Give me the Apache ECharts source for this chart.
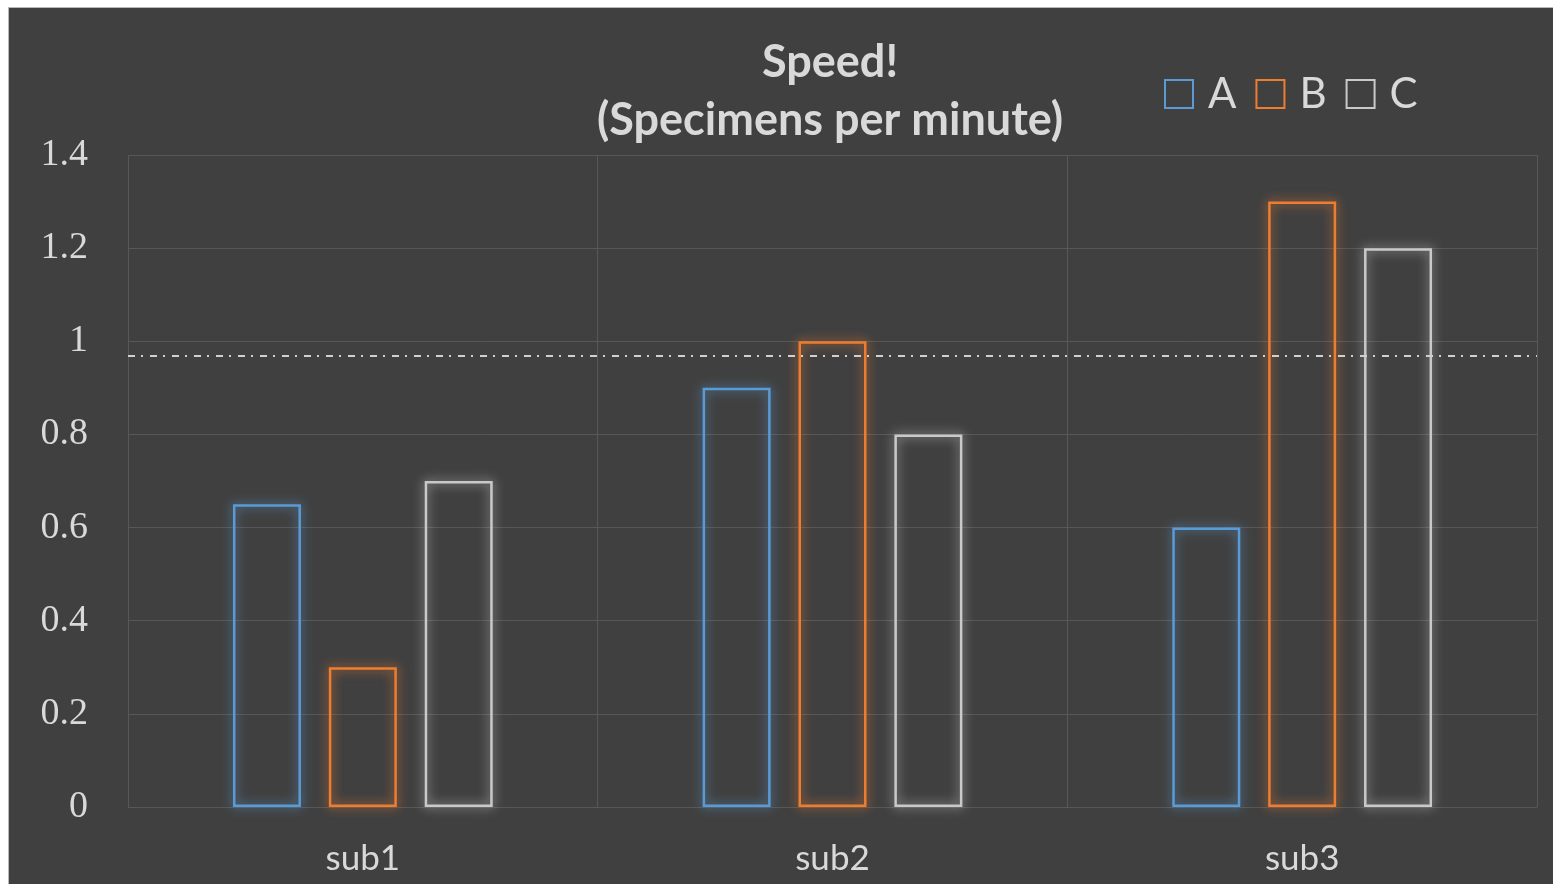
<!DOCTYPE html>
<html>
<head>
<meta charset="utf-8">
<script src="https://cdn.jsdelivr.net/npm/echarts@6/dist/echarts.min.js"></script>
<style>
  html, body { margin: 0; padding: 0; background: #ffffff; width: 1553px; height: 884px; overflow: hidden; }
  #wrap { position: absolute; left: 8px; top: 7px; width: 1545px; height: 877px; border-top: 1px solid #b8b8b8; border-left: 1px solid #b8b8b8; background: #404040; }
  #chart { position: absolute; left: 0; top: 0; width: 1544px; height: 876px; }
</style>
</head>
<body>
<div id="wrap"><div id="chart"></div></div>
<script>
const categories = ['sub1', 'sub2', 'sub3'];
const seriesNames = ['A', 'B', 'C'];
const valuesA = [0.65, 0.9, 0.6];
const valuesB = [0.3, 1.0, 1.3];
const valuesC = [0.7, 0.8, 1.2];
const referenceLine = 0.97;
const titleText = 'Speed!\n(Specimens per minute)';

const colors = ['#5b9bd5', '#ed7d31', '#c9c9c9'];
const allValues = [valuesA, valuesB, valuesC];
const textColor = '#d9d9d9';
const gridColor = '#575757';

const chart = echarts.init(document.getElementById('chart'), null, { renderer: 'canvas' });

const series = seriesNames.map((name, i) => {
  const s = {
    name: name,
    type: 'bar',
    data: allValues[i],
    barWidth: 68,
    barGap: '41%',
    itemStyle: {
      color: 'rgba(64,64,64,0)',
      borderColor: colors[i],
      borderWidth: 2.5,
      shadowBlur: 11,
      shadowColor: colors[i]
    },
    emphasis: { disabled: true }
  };
  if (i === 0) {
    s.markLine = {
      silent: true,
      symbol: ['none', 'none'],
      label: { show: false },
      lineStyle: { color: '#d0d0d0', width: 2, type: [7, 6, 2, 7], shadowBlur: 0 },
      data: [{ yAxis: referenceLine }]
    };
  }
  return s;
});

const option = {
  backgroundColor: '#404040',
  animation: false,
  title: {
    text: titleText,
    left: 816,
    top: 20,
    textAlign: 'center',
    textStyle: {
      color: textColor,
      fontFamily: 'Lato',
      fontWeight: 'bold',
      fontSize: 45,
      lineHeight: 58
    }
  },
  legend: {
    data: seriesNames,
    left: 1150,
    top: 60,
    itemWidth: 28,
    itemHeight: 28,
    itemGap: 19,
    icon: 'rect',
    textStyle: {
      color: textColor,
      fontFamily: 'Lato',
      fontSize: 42,
      padding: [0, 0, 0, 10]
    }
  },
  grid: {
    left: 119,
    right: 16,
    top: 147,
    bottom: 77,
    containLabel: false
  },
  xAxis: {
    type: 'category',
    data: categories,
    boundaryGap: true,
    axisLine: { show: true, lineStyle: { color: gridColor } },
    axisTick: { show: false },
    splitLine: { show: true, lineStyle: { color: gridColor, width: 1 } },
    axisLabel: {
      color: textColor,
      fontFamily: 'Lato',
      fontSize: 35,
      margin: 34
    }
  },
  yAxis: {
    type: 'value',
    min: 0,
    max: 1.4,
    interval: 0.2,
    axisLine: { show: false },
    axisTick: { show: false },
    splitLine: { show: true, lineStyle: { color: gridColor, width: 1 } },
    axisLabel: {
      color: textColor,
      fontFamily: 'Liberation Serif',
      fontSize: 38,
      margin: 40
    }
  },
  series: series
};

chart.setOption(option);
</script>
</body>
</html>
